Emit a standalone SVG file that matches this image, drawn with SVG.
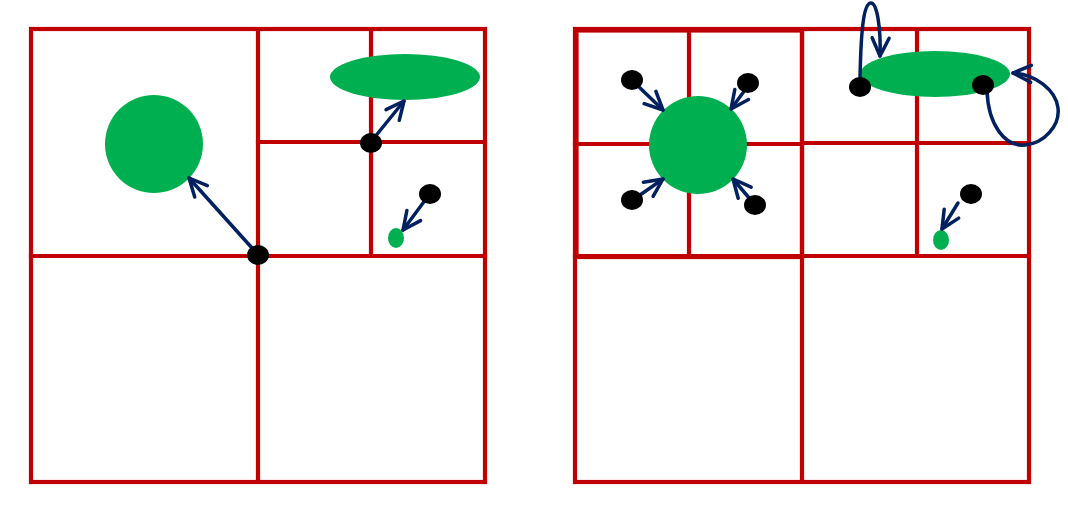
<svg xmlns="http://www.w3.org/2000/svg" width="1068" height="505" viewBox="0 0 1068 505">
<style>
.g{fill:none;stroke:#C00000;stroke-width:4.2;stroke-linecap:square}
.obj{fill:#00B050}
.pt{fill:#000}
.a{fill:none;stroke:#002060;stroke-width:3.5;stroke-linecap:round;marker-end:url(#ah)}
</style>
<defs>
<marker id="ah" markerUnits="userSpaceOnUse" viewBox="-22 -12 26 24" refX="0" refY="0" markerWidth="26" markerHeight="24" orient="auto">
<path d="M -18 -8.5 L 0 0 L -18 8.5" fill="none" stroke="#002060" stroke-width="3.5" stroke-linecap="round" stroke-linejoin="round"/>
</marker>
</defs>
<g id="grid-left">
<rect class="g" x="31" y="29" width="454" height="453"/>
<line class="g" x1="258" y1="29" x2="258" y2="482"/>
<line class="g" x1="31" y1="256" x2="485" y2="256"/>
<line class="g" x1="258" y1="142" x2="485" y2="142"/>
<line class="g" x1="371" y1="29" x2="371" y2="256"/>
</g>
<g id="grid-right">
<rect class="g" x="575" y="29" width="454" height="453"/>
<rect class="g" x="576.5" y="30.5" width="225.5" height="226.5"/>
<line class="g" x1="802" y1="29" x2="802" y2="482"/>
<line class="g" x1="575" y1="256" x2="1029" y2="256"/>
<line class="g" x1="575" y1="144" x2="802" y2="144"/>
<line class="g" x1="689" y1="29" x2="689" y2="256"/>
<line class="g" x1="802" y1="143" x2="1029" y2="143"/>
<line class="g" x1="917" y1="29" x2="917" y2="256"/>
</g>
<g id="objects-left">
<circle class="obj" cx="154" cy="144" r="49"/>
<ellipse class="obj" cx="405" cy="77" rx="75" ry="23"/>
<ellipse class="obj" cx="396" cy="238" rx="8" ry="10"/>
</g>
<g id="objects-right">
<circle class="obj" cx="698" cy="145" r="49"/>
<ellipse class="obj" cx="935" cy="74" rx="75" ry="23"/>
<ellipse class="obj" cx="941" cy="240" rx="8" ry="10"/>
</g>
<g id="connectors">
<line class="a" x1="252" y1="248" x2="189" y2="178"/>
<line class="a" x1="374" y1="138" x2="404" y2="101"/>
<line class="a" x1="426" y1="199" x2="403" y2="230"/>
<line class="a" x1="639" y1="87" x2="663" y2="110"/>
<line class="a" x1="745" y1="90" x2="731" y2="109"/>
<line class="a" x1="640" y1="195" x2="663" y2="179"/>
<line class="a" x1="750" y1="199" x2="733" y2="179"/>
<line class="a" x1="958" y1="203" x2="942" y2="229"/>
<path class="a" d="M 860 80 C 861 20, 865 3, 871 3 C 877 3, 881 28, 880 56"/>
<path class="a" d="M 987 90 C 988 125, 1005 147, 1025 145 C 1045 143, 1060 125, 1058 108 C 1056 90, 1035 74, 1013 73"/>
</g>
<g id="points-left">
<ellipse class="pt" cx="258" cy="255" rx="11" ry="10"/>
<ellipse class="pt" cx="371" cy="143" rx="11" ry="10"/>
<ellipse class="pt" cx="430" cy="194" rx="11" ry="10"/>
</g>
<g id="points-right">
<ellipse class="pt" cx="632" cy="80" rx="11" ry="10"/>
<ellipse class="pt" cx="748" cy="83" rx="11" ry="10"/>
<ellipse class="pt" cx="632" cy="200" rx="11" ry="10"/>
<ellipse class="pt" cx="755" cy="205" rx="11" ry="10"/>
<ellipse class="pt" cx="860" cy="87" rx="11" ry="10"/>
<ellipse class="pt" cx="983" cy="85" rx="11" ry="10"/>
<ellipse class="pt" cx="971" cy="194" rx="11" ry="10"/>
</g>
</svg>
